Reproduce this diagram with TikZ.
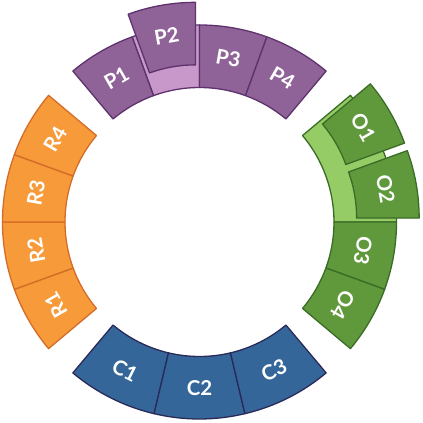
\documentclass[tikz,border=0pt]{standalone}
\usepackage{fontspec}
\setmainfont{Lato}

\definecolor{pfill}{RGB}{143,99,152}
\definecolor{pline}{RGB}{94,50,108}
\definecolor{plight}{RGB}{200,152,202}
\definecolor{ofill}{RGB}{96,153,60}
\definecolor{oline}{RGB}{58,108,38}
\definecolor{olight}{RGB}{150,204,102}
\definecolor{rfill}{RGB}{247,154,58}
\definecolor{rline}{RGB}{212,108,40}
\definecolor{cfill}{RGB}{52,102,154}
\definecolor{cline}{RGB}{42,42,88}

\def\rin{134.5pt}
\def\rout{197pt}

\begin{document}
\begin{tikzpicture}[x=1pt,y=1pt,line join=round,
  pseg/.style={fill=pfill,draw=pline,line width=1.3pt},
  pweak/.style={fill=plight,draw=pline,line width=1.3pt},
  oseg/.style={fill=ofill,draw=oline,line width=1.3pt},
  oweak/.style={fill=olight,draw=oline,line width=1.3pt},
  rseg/.style={fill=rfill,draw=rline,line width=1.3pt},
  cseg/.style={fill=cfill,draw=cline,line width=1.3pt},
  lbl/.style={text=white,font=\bfseries\fontsize{20.5}{20.5}\selectfont,inner sep=0pt}]

\useasboundingbox (-199.5pt,-201pt) rectangle (223.5pt,222pt);

% P group (P2 pulled out)
\draw [pweak] (90:\rin) arc [start angle=90,end angle=110,radius=\rin] -- (110:\rout) arc [start angle=110,end angle=90,radius=\rout] -- cycle;
\draw [pseg] (110:\rin) arc [start angle=110,end angle=130,radius=\rin] -- (130:\rout) arc [start angle=130,end angle=110,radius=\rout] -- cycle;
\draw [pseg] (70:\rin) arc [start angle=70,end angle=90,radius=\rin] -- (90:\rout) arc [start angle=90,end angle=70,radius=\rout] -- cycle;
\draw [pseg] (50:\rin) arc [start angle=50,end angle=70,radius=\rin] -- (70:\rout) arc [start angle=70,end angle=50,radius=\rout] -- cycle;
\draw [pseg,shift={(100:23pt)}] (90:\rin) arc [start angle=90,end angle=110,radius=\rin] -- (110:\rout) arc [start angle=110,end angle=90,radius=\rout] -- cycle;

% O group (O1, O2 pulled out)
\draw [oweak] (0:\rin) arc [start angle=0,end angle=40,radius=\rin] -- (40:\rout) arc [start angle=40,end angle=0,radius=\rout] -- cycle;
\draw [oseg] (-20:\rin) arc [start angle=-20,end angle=0,radius=\rin] -- (0:\rout) arc [start angle=0,end angle=-20,radius=\rout] -- cycle;
\draw [oseg] (-40:\rin) arc [start angle=-40,end angle=-20,radius=\rin] -- (-20:\rout) arc [start angle=-20,end angle=-40,radius=\rout] -- cycle;
\draw [oseg,shift={(10:23pt)}] (0:\rin) arc [start angle=0,end angle=20,radius=\rin] -- (20:\rout) arc [start angle=20,end angle=0,radius=\rout] -- cycle;
\draw [oseg,shift={(30:23pt)}] (20:\rin) arc [start angle=20,end angle=40,radius=\rin] -- (40:\rout) arc [start angle=40,end angle=20,radius=\rout] -- cycle;

% R group
\draw [rseg] (200:\rin) arc [start angle=200,end angle=220,radius=\rin] -- (220:\rout) arc [start angle=220,end angle=200,radius=\rout] -- cycle;
\draw [rseg] (180:\rin) arc [start angle=180,end angle=200,radius=\rin] -- (200:\rout) arc [start angle=200,end angle=180,radius=\rout] -- cycle;
\draw [rseg] (160:\rin) arc [start angle=160,end angle=180,radius=\rin] -- (180:\rout) arc [start angle=180,end angle=160,radius=\rout] -- cycle;
\draw [rseg] (140:\rin) arc [start angle=140,end angle=160,radius=\rin] -- (160:\rout) arc [start angle=160,end angle=140,radius=\rout] -- cycle;

% C group
\draw [cseg] (230:\rin) arc [start angle=230,end angle=256.67,radius=\rin] -- (256.67:\rout) arc [start angle=256.67,end angle=230,radius=\rout] -- cycle;
\draw [cseg] (256.67:\rin) arc [start angle=256.67,end angle=283.33,radius=\rin] -- (283.33:\rout) arc [start angle=283.33,end angle=256.67,radius=\rout] -- cycle;
\draw [cseg] (283.33:\rin) arc [start angle=283.33,end angle=310,radius=\rin] -- (310:\rout) arc [start angle=310,end angle=283.33,radius=\rout] -- cycle;

% labels
\node [lbl,rotate=30] (p1) at (120:166pt) {P1};
\node [lbl,rotate=10] (p2) at (100:189pt) {P2};
\node [lbl,rotate=-10] (p3) at (80:166pt) {P3};
\node [lbl,rotate=-30] (p4) at (60:166pt) {P4};

\node [lbl,rotate=-60] (o1) at (30:189pt) {O1};
\node [lbl,rotate=-80] (o2) at (10:189pt) {O2};
\node [lbl,rotate=-100] (o3) at (-10:166pt) {O3};
\node [lbl,rotate=-120] (o4) at (-30:166pt) {O4};

\node [lbl,rotate=120] (r1) at (210:166pt) {R1};
\node [lbl,rotate=100] (r2) at (190:166pt) {R2};
\node [lbl,rotate=80] (r3) at (170:166pt) {R3};
\node [lbl,rotate=60] (r4) at (150:166pt) {R4};

\node [lbl,rotate=-26.67] (c1) at (243.33:166pt) {C1};
\node [lbl] (c2) at (270:166pt) {C2};
\node [lbl,rotate=26.67] (c3) at (296.67:166pt) {C3};

\end{tikzpicture}
\end{document}
